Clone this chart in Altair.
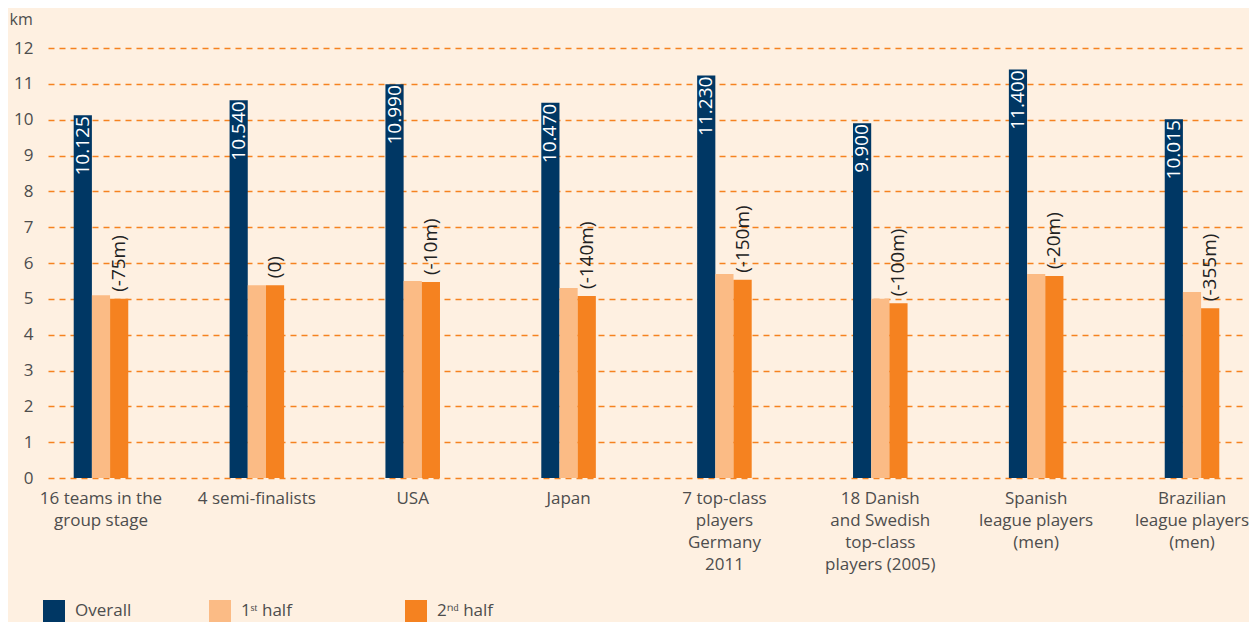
import altair as alt
import pandas as pd

categories = [
    "16 teams in the\ngroup stage",
    "4 semi-finalists",
    "USA",
    "Japan",
    "7 top-class\nplayers\nGermany\n2011",
    "18 Danish\nand Swedish\ntop-class\nplayers (2005)",
    "Spanish\nleague players\n(men)",
    "Brazilian\nleague players\n(men)",
]
series_names = ["Overall", "1\u02e2\u1d57 half", "2\u207f\u1d48 half"]
overall = [10.125, 10.540, 10.990, 10.470, 11.230, 9.900, 11.400, 10.015]
first_half = [5.10, 5.38, 5.50, 5.30, 5.69, 5.00, 5.69, 5.19]
second_half = [5.00, 5.38, 5.47, 5.08, 5.53, 4.88, 5.64, 4.74]
overall_labels = ["10.125", "10.540", "10.990", "10.470", "11.230", "9.900", "11.400", "10.015"]
diff_labels = ["(-75m)", "(0)", "(-10m)", "(-140m)", "(-150m)", "(-100m)", "(-20m)", "(-355m)"]
y_ticks = list(range(0, 13))

colors = ["#003764", "#FBBB85", "#F58220"]
BG = "#FEF0E1"
FONT = "Open Sans"
TXT = "#4d4d4d"

rows = []
for i, c in enumerate(categories):
    for s, vals in zip(series_names, [overall, first_half, second_half]):
        rows.append({"category": c, "series": s, "value": vals[i]})
bars_df = pd.DataFrame(rows)

ov_df = pd.DataFrame({"category": categories, "series": series_names[0],
                      "value": overall, "label": overall_labels})
diff_df = pd.DataFrame({"category": categories, "series": series_names[2],
                        "value": second_half, "label": diff_labels})

x_enc = alt.X(
    "category:N",
    sort=categories,
    scale=alt.Scale(paddingInner=0.65, paddingOuter=0.165),
    axis=alt.Axis(
        title=None, labelAngle=0, domain=False, ticks=False, grid=False,
        labelExpr="split(datum.label, '\\n')", labelLineHeight=22,
        labelPadding=12, labelFontSize=17, labelColor=TXT, labelFont=FONT,
        labelLimit=400, labelOverlap=False,
    ),
)
xo_enc = alt.XOffset("series:N", sort=series_names,
                     scale=alt.Scale(domain=series_names, paddingInner=0, paddingOuter=0))
y_enc = alt.Y(
    "value:Q",
    scale=alt.Scale(domain=[0, 12], nice=False),
    axis=alt.Axis(
        values=y_ticks, tickCount=13, labelOverlap=False, domain=False, ticks=False,
        labelPadding=15, labelFontSize=17, labelColor=TXT, labelFont=FONT,
        grid=True, gridColor="#F58220", gridDash=[6, 5], gridWidth=1.6,
        title="km", titleAngle=0, titleAlign="left", titleBaseline="alphabetic",
        titleX=-39, titleY=-24, titleFontSize=16, titleFontWeight="normal",
        titleColor=TXT, titleFont=FONT,
    ),
)

# invisible (non-whitespace) blank glyphs to widen the 2nd legend entry
pad = "\u2800" * 3

bars = alt.Chart(bars_df).mark_bar().encode(
    x=x_enc,
    xOffset=xo_enc,
    y=y_enc,
    color=alt.Color(
        "series:N",
        sort=series_names,
        scale=alt.Scale(domain=series_names, range=colors),
        legend=alt.Legend(
            title=None, orient="none", direction="horizontal",
            legendX=-5, legendY=552, symbolType="square", symbolSize=484,
            symbolStrokeWidth=0, symbolOpacity=1, labelFontSize=17,
            labelFont=FONT, labelColor=TXT, labelOffset=10, columnPadding=77,
            labelExpr="slice(datum.label, 0, 1) == '1' ? datum.label + '" + pad + "' : datum.label",
        ),
    ),
)

ov_text = alt.Chart(ov_df).mark_text(
    angle=270, align="right", baseline="middle", dx=-1, color="white",
    fontSize=19, font=FONT,
).encode(x=x_enc, xOffset=xo_enc, y=y_enc, text="label:N")

diff_text = alt.Chart(diff_df).mark_text(
    angle=270, align="left", baseline="middle", dx=7, color="#222222",
    fontSize=19, font=FONT,
).encode(x=x_enc, xOffset=xo_enc, y=y_enc, text="label:N")

chart = (
    alt.layer(bars, ov_text, diff_text)
    .properties(
        width=1197, height=430,
        padding={"left": 40, "top": 40, "right": 4, "bottom": 144},
        autosize=alt.AutoSizeParams(type="none"),
        background=BG,
    )
    .configure_view(stroke=None)
)

chart.save("out.html", embed_options={"renderer": "svg", "actions": False})
